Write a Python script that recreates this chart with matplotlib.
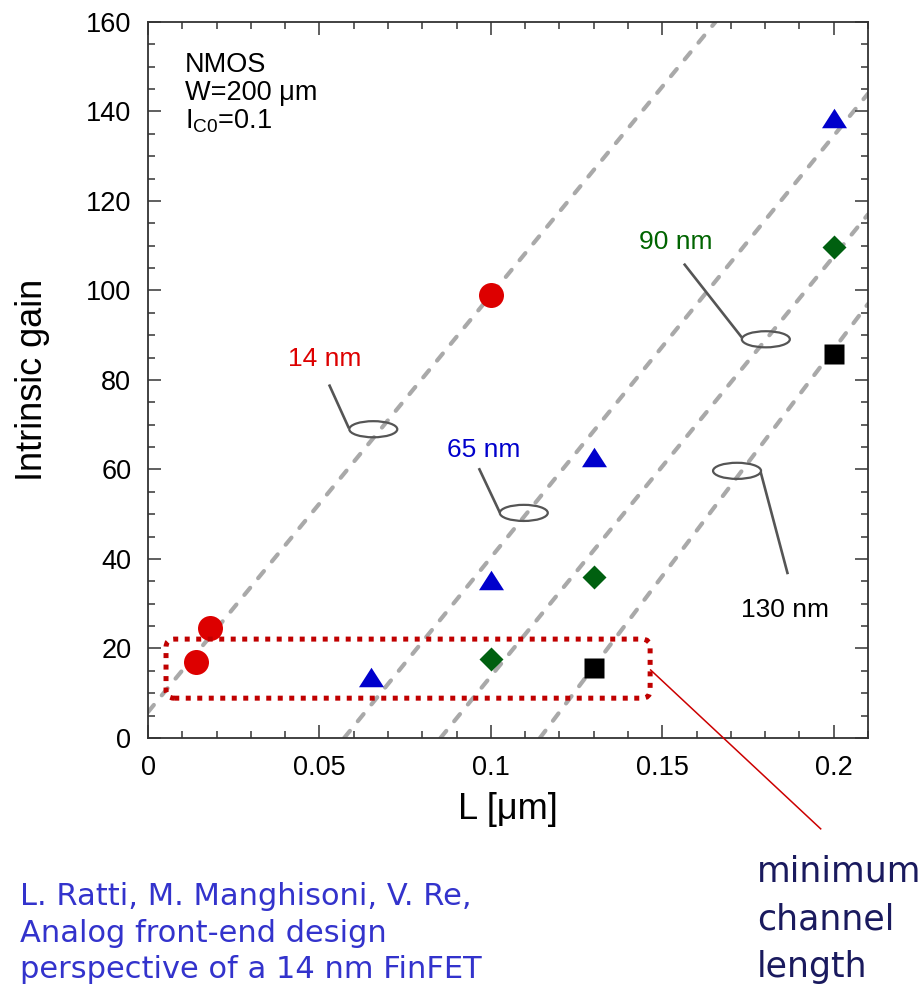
import matplotlib
matplotlib.use('Agg')
import matplotlib.pyplot as plt
from matplotlib.patches import Ellipse, FancyBboxPatch
from matplotlib.ticker import MultipleLocator

plt.rcParams['font.family'] = ['Liberation Sans', 'DejaVu Sans']
plt.rcParams['mathtext.fontset'] = 'custom'
plt.rcParams['mathtext.rm'] = 'Liberation Sans'

# measured points, L in um
L_14 = [0.014, 0.018, 0.1]
gain_14 = [17, 24.6, 98.9]
L_65 = [0.065, 0.1, 0.13, 0.2]
gain_65 = [13.6, 35.3, 62.9, 138.6]
L_90 = [0.1, 0.13, 0.2]
gain_90 = [17.6, 35.9, 109.8]
L_130 = [0.13, 0.2]
gain_130 = [15.6, 85.7]

# dashed guide lines, end points
fit14_x = [0.0, 0.1655]
fit14_y = [5.8, 160]
fit65_x = [0.0572, 0.21]
fit65_y = [0, 144]
fit90_x = [0.0853, 0.21]
fit90_y = [0, 117]
fit130_x = [0.1143, 0.21]
fit130_y = [0, 97]

labels = ['14 nm', '65 nm', '90 nm', '130 nm']
label_colors = ['#dd0000', '#0000cc', '#006400', 'black']

fig = plt.figure(figsize=(9.24, 9.91), dpi=100)
ax = fig.add_axes([0.1602, 0.2553, 0.7792, 0.7225])

dash = dict(color='#a9a9a9', lw=3, dashes=(2.2, 3.0), dash_capstyle='round', zorder=1)
for fx, fy in [(fit14_x, fit14_y), (fit65_x, fit65_y), (fit90_x, fit90_y), (fit130_x, fit130_y)]:
    ax.plot(fx, fy, **dash)

tri = [(0, 0.78), (-1, -0.78), (1, -0.78)]
ax.plot(L_14, gain_14, 'o', color='#dd0000', ms=18, mec='none', zorder=3)
ax.plot(L_65, gain_65, marker=tri, ls='none', color='#0000cc', ms=18, mec='none', zorder=3)
ax.plot(L_90, gain_90, 'D', color='#006010', ms=12.5, mec='none', zorder=3)
ax.plot(L_130, gain_130, 's', color='black', ms=14.5, mec='none', zorder=3)

# callouts: text, leader line, ellipse
text_pos = [(0.0516, 83.1), (0.0980, 62.7), (0.1539, 109.2), (0.1857, 27.0)]
leaders = [((0.0528, 79.0), (0.0586, 69.2)),
           ((0.0965, 60.3), (0.1026, 50.4)),
           ((0.1563, 106.0), (0.1732, 89.5)),
           ((0.1866, 36.6), (0.1787, 59.4))]
ell_c = [(0.0657, 69.0), (0.1096, 50.3), (0.1802, 89.1), (0.1718, 59.7)]
for lab, col, tp, (p0, p1), ec in zip(labels, label_colors, text_pos, leaders, ell_c):
    ax.text(tp[0], tp[1], lab, color=col, fontsize=19, ha='center', va='baseline')
    ax.plot([p0[0], p1[0]], [p0[1], p1[1]], color='#555555', lw=1.9, solid_capstyle='butt', zorder=2)
    ax.add_patch(Ellipse(ec, 0.014, 3.6, fill=False, ec='#555555', lw=1.6, zorder=2))

# minimum channel length box
box = FancyBboxPatch((0.00525, 8.9), 0.1412, 13.2,
                     boxstyle='round,pad=0,rounding_size=0.0024',
                     mutation_aspect=3430 / 4.48,
                     fill=False, ec='#c00000', lw=3.6, ls=(0, (1, 1.3)), zorder=4)
ax.add_patch(box)
ax.plot([0.1466, 0.1962], [15.2, -20.3], color='#cc0000', lw=1.1, clip_on=False, zorder=4)

ax.text(0.0108, 148.9, 'NMOS', fontsize=19.5, va='baseline')
ax.text(0.0108, 142.6, 'W=200 \u03bcm', fontsize=19.5, va='baseline')
ax.text(0.0108, 136.2, r'I$_{\rm C0}$=0.1', fontsize=19.5, va='baseline')

ax.set_xlim(0, 0.21)
ax.set_ylim(0, 160)
ax.xaxis.set_major_locator(MultipleLocator(0.05))
ax.xaxis.set_minor_locator(MultipleLocator(0.01))
ax.yaxis.set_major_locator(MultipleLocator(20))
ax.yaxis.set_minor_locator(MultipleLocator(5))
ax.set_xticks([0, 0.05, 0.1, 0.15, 0.2])
ax.set_xticklabels(['0', '0.05', '0.1', '0.15', '0.2'])
ax.tick_params(which='both', direction='in', top=True, right=True, color='#444444', width=1.2)
ax.tick_params(which='major', length=9.5, labelsize=19.5, pad=12)
ax.tick_params(which='minor', length=5)
for s in ax.spines.values():
    s.set_linewidth(1.3)
    s.set_color('#333333')

ax.set_xlabel('L [\u03bcm]', fontsize=26, labelpad=8)
ax.set_ylabel('Intrinsic gain', fontsize=26, labelpad=26)

ref_lines = ['L. Ratti, M. Manghisoni, V. Re,', 'Analog front-end design', 'perspective of a 14 nm FinFET']
for i, t in enumerate(ref_lines):
    fig.text(20 / 924, 1 - (905 + 36.5 * i) / 991, t, color='#3333cc', fontsize=22,
             family='DejaVu Sans', va='baseline')

note_lines = ['minimum', 'channel', 'length']
for i, t in enumerate(note_lines):
    fig.text(757 / 924, 1 - (882 + 47.5 * i) / 991, t, color='#1a1a5e', fontsize=25,
             family='DejaVu Sans', va='baseline')

fig.savefig('out.png', dpi=100)
